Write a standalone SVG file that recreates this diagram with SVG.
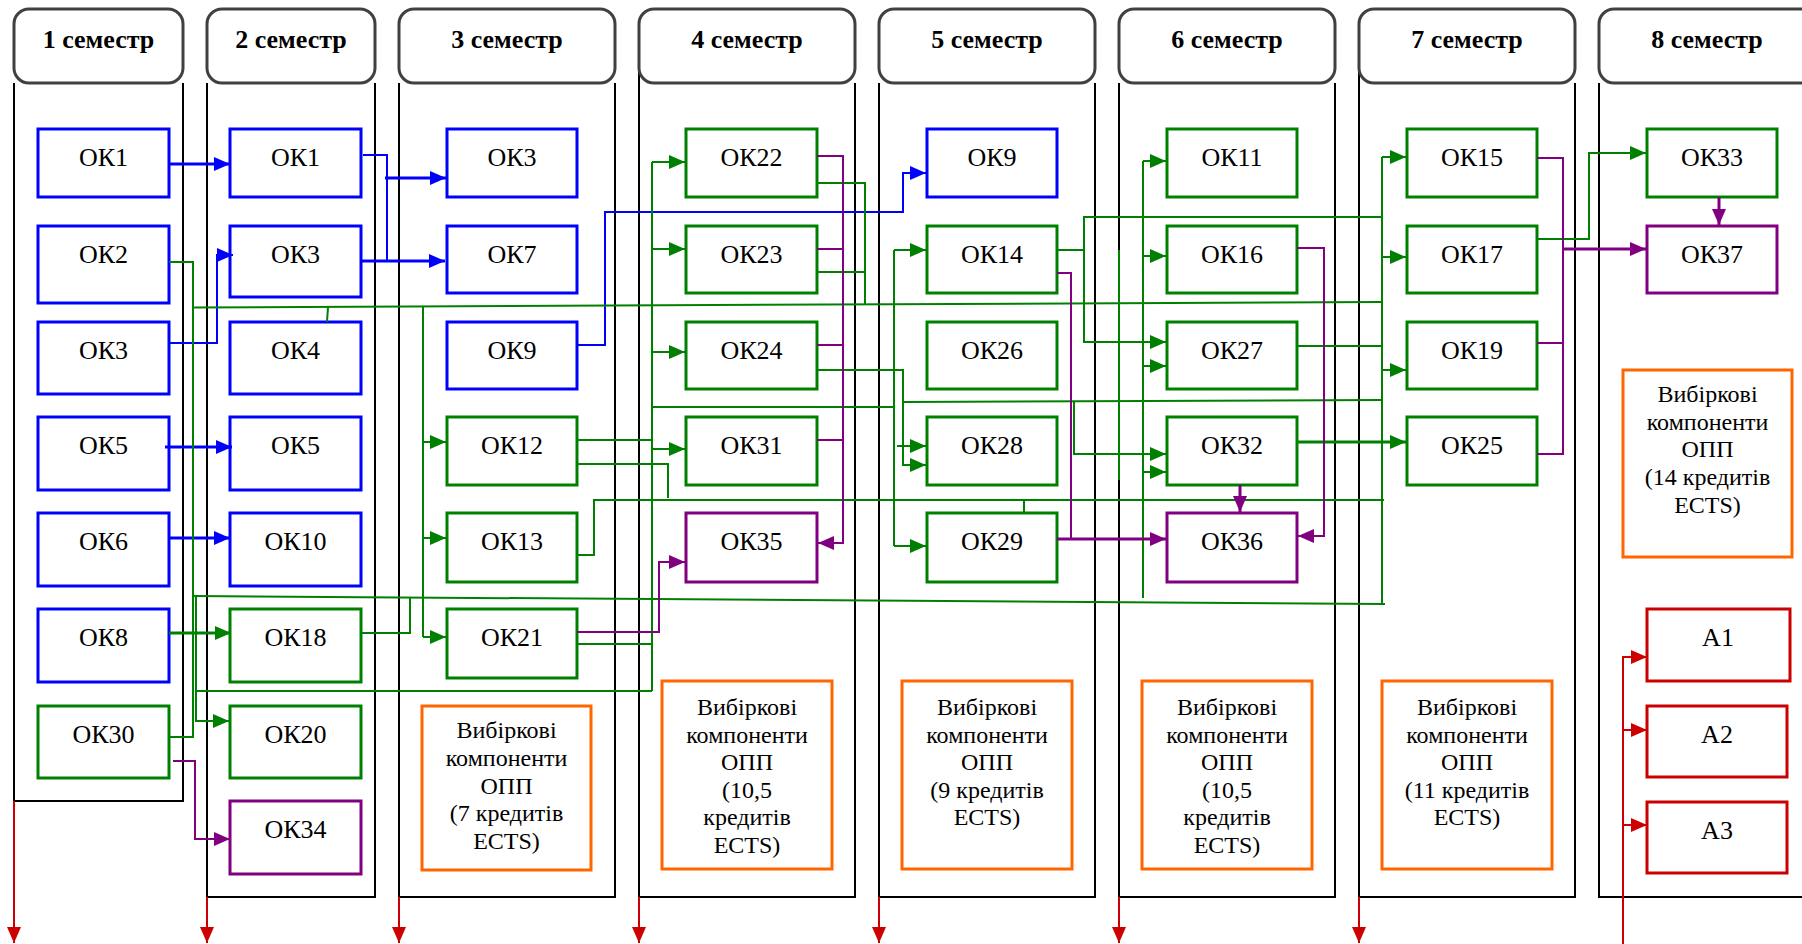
<svg xmlns="http://www.w3.org/2000/svg" width="1802" height="944" viewBox="0 0 1802 944">
<defs>
<style>
.col{fill:none;stroke:#000;stroke-width:2}
.hdr{fill:#fff;stroke:#404040;stroke-width:3}
.ht{font-family:"Liberation Serif","Times New Roman",serif;font-size:26px;font-weight:bold;text-anchor:middle;fill:#000}
.t{font-family:"Liberation Serif","Times New Roman",serif;font-size:26px;text-anchor:middle;fill:#000}
.v{font-family:"Liberation Serif","Times New Roman",serif;font-size:24px;text-anchor:middle;fill:#000}
.nb{fill:#fff;stroke:#0000ff;stroke-width:3}
.ng{fill:#fff;stroke:#008000;stroke-width:3}
.np{fill:#fff;stroke:#800080;stroke-width:3}
.nr{fill:#fff;stroke:#cc0000;stroke-width:3}
.no{fill:#fff;stroke:#ff6600;stroke-width:3}
.cb{fill:none;stroke:#0000ff;stroke-width:2}
.cg{fill:none;stroke:#008000;stroke-width:2}
.cp{fill:none;stroke:#800080;stroke-width:2}
.cr{fill:none;stroke:#cc0000;stroke-width:2}
.th{stroke-width:3}
</style>
<marker id="mb" viewBox="0 0 16 14" refX="16" refY="7" markerWidth="16" markerHeight="14" markerUnits="userSpaceOnUse" orient="auto"><path d="M0,0L16,7L0,14z" fill="#0000ff"/></marker>
<marker id="mg" viewBox="0 0 16 14" refX="16" refY="7" markerWidth="16" markerHeight="14" markerUnits="userSpaceOnUse" orient="auto"><path d="M0,0L16,7L0,14z" fill="#008000"/></marker>
<marker id="mp" viewBox="0 0 16 14" refX="16" refY="7" markerWidth="16" markerHeight="14" markerUnits="userSpaceOnUse" orient="auto"><path d="M0,0L16,7L0,14z" fill="#800080"/></marker>
<marker id="mr" viewBox="0 0 16 14" refX="16" refY="7" markerWidth="16" markerHeight="14" markerUnits="userSpaceOnUse" orient="auto"><path d="M0,0L16,7L0,14z" fill="#cc0000"/></marker>
</defs>
<rect width="1802" height="944" fill="#fff"/>

<g id="columns">
<path class="col" d="M14,83V801H183V83"/>
<path class="col" d="M207,83V897H375V83"/>
<path class="col" d="M399,83V897H615V83"/>
<path class="col" d="M639,58V897H855V83"/>
<path class="col" d="M879,83V897H1095V83"/>
<path class="col" d="M1119,83V897H1335V83"/>
<path class="col" d="M1359,58V897H1575V83"/>
<path class="col" d="M1599,83V897H1802"/>
</g>
<g id="headers">
<rect class="hdr" x="14" y="9" width="169" height="74" rx="15"/><text class="ht" x="98.5" y="48">1 семестр</text>
<rect class="hdr" x="207" y="9" width="168" height="74" rx="15"/><text class="ht" x="291" y="48">2 семестр</text>
<rect class="hdr" x="399" y="9" width="216" height="74" rx="15"/><text class="ht" x="507" y="48">3 семестр</text>
<rect class="hdr" x="639" y="9" width="216" height="74" rx="15"/><text class="ht" x="747" y="48">4 семестр</text>
<rect class="hdr" x="879" y="9" width="216" height="74" rx="15"/><text class="ht" x="987" y="48">5 семестр</text>
<rect class="hdr" x="1119" y="9" width="216" height="74" rx="15"/><text class="ht" x="1227" y="48">6 семестр</text>
<rect class="hdr" x="1359" y="9" width="216" height="74" rx="15"/><text class="ht" x="1467" y="48">7 семестр</text>
<rect class="hdr" x="1599" y="9" width="240" height="74" rx="15"/><text class="ht" x="1707" y="48">8 семестр</text>
</g>

<g id="s1-ok1"><rect class="nb" x="38" y="129" width="131" height="68"/><text class="t" x="103.5" y="166">ОК1</text></g>
<g id="s1-ok2"><rect class="nb" x="38" y="226" width="131" height="77"/><text class="t" x="103.5" y="263">ОК2</text></g>
<g id="s1-ok3"><rect class="nb" x="38" y="322" width="131" height="72"/><text class="t" x="103.5" y="359">ОК3</text></g>
<g id="s1-ok5"><rect class="nb" x="38" y="417" width="131" height="73"/><text class="t" x="103.5" y="454">ОК5</text></g>
<g id="s1-ok6"><rect class="nb" x="38" y="513" width="131" height="73"/><text class="t" x="103.5" y="550">ОК6</text></g>
<g id="s1-ok8"><rect class="nb" x="38" y="609" width="131" height="73"/><text class="t" x="103.5" y="646">ОК8</text></g>
<g id="s1-ok30"><rect class="ng" x="38" y="706" width="131" height="72"/><text class="t" x="103.5" y="743">ОК30</text></g>

<g id="s2-ok1"><rect class="nb" x="230" y="129" width="131" height="68"/><text class="t" x="295.5" y="166">ОК1</text></g>
<g id="s2-ok3"><rect class="nb" x="230" y="226" width="131" height="71"/><text class="t" x="295.5" y="263">ОК3</text></g>
<g id="s2-ok4"><rect class="nb" x="230" y="322" width="131" height="72"/><text class="t" x="295.5" y="359">ОК4</text></g>
<g id="s2-ok5"><rect class="nb" x="230" y="417" width="131" height="73"/><text class="t" x="295.5" y="454">ОК5</text></g>
<g id="s2-ok10"><rect class="nb" x="230" y="513" width="131" height="73"/><text class="t" x="295.5" y="550">ОК10</text></g>
<g id="s2-ok18"><rect class="ng" x="230" y="609" width="131" height="73"/><text class="t" x="295.5" y="646">ОК18</text></g>
<g id="s2-ok20"><rect class="ng" x="230" y="706" width="131" height="72"/><text class="t" x="295.5" y="743">ОК20</text></g>
<g id="s2-ok34"><rect class="np" x="230" y="801" width="131" height="73"/><text class="t" x="295.5" y="838">ОК34</text></g>

<g id="s3-ok3"><rect class="nb" x="447" y="129" width="130" height="68"/><text class="t" x="512" y="166">ОК3</text></g>
<g id="s3-ok7"><rect class="nb" x="447" y="226" width="130" height="67"/><text class="t" x="512" y="263">ОК7</text></g>
<g id="s3-ok9"><rect class="nb" x="447" y="322" width="130" height="67"/><text class="t" x="512" y="359">ОК9</text></g>
<g id="s3-ok12"><rect class="ng" x="447" y="417" width="130" height="68"/><text class="t" x="512" y="454">ОК12</text></g>
<g id="s3-ok13"><rect class="ng" x="447" y="513" width="130" height="69"/><text class="t" x="512" y="550">ОК13</text></g>
<g id="s3-ok21"><rect class="ng" x="447" y="609" width="130" height="69"/><text class="t" x="512" y="646">ОК21</text></g>
<g id="s3-vk"><rect class="no" x="422" y="706" width="169" height="164"/><text class="v" x="506.5" y="738">Вибіркові</text><text class="v" x="506.5" y="766">компоненти</text><text class="v" x="506.5" y="794">ОПП</text><text class="v" x="506.5" y="821">(7 кредитів</text><text class="v" x="506.5" y="849">ECTS)</text></g>

<g id="s4-ok22"><rect class="ng" x="686" y="129" width="131" height="68"/><text class="t" x="751.5" y="166">ОК22</text></g>
<g id="s4-ok23"><rect class="ng" x="686" y="226" width="131" height="67"/><text class="t" x="751.5" y="263">ОК23</text></g>
<g id="s4-ok24"><rect class="ng" x="686" y="322" width="131" height="67"/><text class="t" x="751.5" y="359">ОК24</text></g>
<g id="s4-ok31"><rect class="ng" x="686" y="417" width="131" height="68"/><text class="t" x="751.5" y="454">ОК31</text></g>
<g id="s4-ok35"><rect class="np" x="686" y="513" width="131" height="69"/><text class="t" x="751.5" y="550">ОК35</text></g>
<g id="s4-vk"><rect class="no" x="662" y="681" width="170" height="188"/><text class="v" x="747" y="715">Вибіркові</text><text class="v" x="747" y="743">компоненти</text><text class="v" x="747" y="770">ОПП</text><text class="v" x="747" y="798">(10,5</text><text class="v" x="747" y="825">кредитів</text><text class="v" x="747" y="853">ECTS)</text></g>

<g id="s5-ok9"><rect class="nb" x="927" y="129" width="130" height="68"/><text class="t" x="992" y="166">ОК9</text></g>
<g id="s5-ok14"><rect class="ng" x="927" y="226" width="130" height="67"/><text class="t" x="992" y="263">ОК14</text></g>
<g id="s5-ok26"><rect class="ng" x="927" y="322" width="130" height="67"/><text class="t" x="992" y="359">ОК26</text></g>
<g id="s5-ok28"><rect class="ng" x="927" y="417" width="130" height="68"/><text class="t" x="992" y="454">ОК28</text></g>
<g id="s5-ok29"><rect class="ng" x="927" y="513" width="130" height="69"/><text class="t" x="992" y="550">ОК29</text></g>
<g id="s5-vk"><rect class="no" x="902" y="681" width="170" height="188"/><text class="v" x="987" y="715">Вибіркові</text><text class="v" x="987" y="743">компоненти</text><text class="v" x="987" y="770">ОПП</text><text class="v" x="987" y="798">(9 кредитів</text><text class="v" x="987" y="825">ECTS)</text></g>

<g id="s6-ok11"><rect class="ng" x="1167" y="129" width="130" height="68"/><text class="t" x="1232" y="166">ОК11</text></g>
<g id="s6-ok16"><rect class="ng" x="1167" y="226" width="130" height="67"/><text class="t" x="1232" y="263">ОК16</text></g>
<g id="s6-ok27"><rect class="ng" x="1167" y="322" width="130" height="67"/><text class="t" x="1232" y="359">ОК27</text></g>
<g id="s6-ok32"><rect class="ng" x="1167" y="417" width="130" height="68"/><text class="t" x="1232" y="454">ОК32</text></g>
<g id="s6-ok36"><rect class="np" x="1167" y="513" width="130" height="69"/><text class="t" x="1232" y="550">ОК36</text></g>
<g id="s6-vk"><rect class="no" x="1142" y="681" width="170" height="188"/><text class="v" x="1227" y="715">Вибіркові</text><text class="v" x="1227" y="743">компоненти</text><text class="v" x="1227" y="770">ОПП</text><text class="v" x="1227" y="798">(10,5</text><text class="v" x="1227" y="825">кредитів</text><text class="v" x="1227" y="853">ECTS)</text></g>

<g id="s7-ok15"><rect class="ng" x="1407" y="129" width="130" height="68"/><text class="t" x="1472" y="166">ОК15</text></g>
<g id="s7-ok17"><rect class="ng" x="1407" y="226" width="130" height="67"/><text class="t" x="1472" y="263">ОК17</text></g>
<g id="s7-ok19"><rect class="ng" x="1407" y="322" width="130" height="67"/><text class="t" x="1472" y="359">ОК19</text></g>
<g id="s7-ok25"><rect class="ng" x="1407" y="417" width="130" height="68"/><text class="t" x="1472" y="454">ОК25</text></g>
<g id="s7-vk"><rect class="no" x="1382" y="681" width="170" height="188"/><text class="v" x="1467" y="715">Вибіркові</text><text class="v" x="1467" y="743">компоненти</text><text class="v" x="1467" y="770">ОПП</text><text class="v" x="1467" y="798">(11 кредитів</text><text class="v" x="1467" y="825">ECTS)</text></g>

<g id="s8-ok33"><rect class="ng" x="1647" y="129" width="130" height="68"/><text class="t" x="1712" y="166">ОК33</text></g>
<g id="s8-ok37"><rect class="np" x="1647" y="226" width="130" height="67"/><text class="t" x="1712" y="263">ОК37</text></g>
<g id="s8-vk"><rect class="no" x="1623" y="370" width="169" height="187"/><text class="v" x="1707.5" y="402">Вибіркові</text><text class="v" x="1707.5" y="430">компоненти</text><text class="v" x="1707.5" y="457">ОПП</text><text class="v" x="1707.5" y="485">(14 кредитів</text><text class="v" x="1707.5" y="513">ECTS)</text></g>
<g id="s8-a1"><rect class="nr" x="1647" y="609" width="143" height="72"/><text class="t" x="1718" y="646">А1</text></g>
<g id="s8-a2"><rect class="nr" x="1647" y="706" width="140" height="71"/><text class="t" x="1717" y="743">А2</text></g>
<g id="s8-a3"><rect class="nr" x="1647" y="802" width="140" height="71"/><text class="t" x="1717" y="839">А3</text></g>

<g id="connectors">
<!-- blue -->
<path class="cb th" d="M169,164H230" marker-end="url(#mb)"/>
<path class="cb" d="M363,155H387V261"/>
<path class="cb th" d="M385,178H446" marker-end="url(#mb)"/>
<path class="cb th" d="M361,261H445" marker-end="url(#mb)"/>
<path class="cb" d="M169,343H217V255H233" marker-end="url(#mb)"/>
<path class="cb th" d="M165,447H232" marker-end="url(#mb)"/>
<path class="cb th" d="M169,538H230" marker-end="url(#mb)"/>
<path class="cb" d="M577,345H605V212H903V173H926" marker-end="url(#mb)"/>
<!-- green -->
<path class="cg" d="M169,262H193V737H169"/>
<path class="cg" d="M193,307.5L1382,302"/>
<path class="cg" d="M327,322L328,307"/>
<path class="cg" d="M423,307V637"/>
<path class="cg" d="M423,442H446" marker-end="url(#mg)"/>
<path class="cg" d="M423,538H446" marker-end="url(#mg)"/>
<path class="cg" d="M423,637H446" marker-end="url(#mg)"/>
<path class="cg" d="M193,596L1385,604"/>
<path class="cg" d="M361,633H410V597"/>
<path class="cg th" d="M169,633H231" marker-end="url(#mg)"/>
<path class="cg" d="M196,691H652"/>
<path class="cg" d="M196,597V721H229" marker-end="url(#mg)"/>
<path class="cg" d="M652,162V691"/>
<path class="cg" d="M652,162H685" marker-end="url(#mg)"/>
<path class="cg" d="M652,249H685" marker-end="url(#mg)"/>
<path class="cg" d="M652,352H685" marker-end="url(#mg)"/>
<path class="cg" d="M652,449H685" marker-end="url(#mg)"/>
<path class="cg" d="M577,644H652"/>
<path class="cg" d="M577,440H652"/>
<path class="cg" d="M577,464H668V498"/>
<path class="cg" d="M577,555H594V500H1384"/>
<path class="cg" d="M1024,513V500"/>
<path class="cg" d="M652,407H894"/>
<path class="cg" d="M894,250V546"/>
<path class="cg" d="M894,250H926" marker-end="url(#mg)"/>
<path class="cg" d="M897,446H926" marker-end="url(#mg)"/>
<path class="cg" d="M894,546H926" marker-end="url(#mg)"/>
<path class="cg" d="M817,370H903V465H926" marker-end="url(#mg)"/>
<path class="cg" d="M903,402L1382,400"/>
<path class="cg" d="M1074,402V454H1166" marker-end="url(#mg)"/>
<path class="cg" d="M817,183H865V305"/>
<path class="cg" d="M817,272H865"/>
<path class="cg" d="M1057,250H1084"/>
<path class="cg" d="M1382,217H1084V342H1166" marker-end="url(#mg)"/>
<path class="cg" d="M1143,161V598"/>
<path class="cg" d="M1143,161H1166" marker-end="url(#mg)"/>
<path class="cg" d="M1143,256H1166" marker-end="url(#mg)"/>
<path class="cg" d="M1143,366H1166" marker-end="url(#mg)"/>
<path class="cg" d="M1143,472H1166" marker-end="url(#mg)"/>
<path class="cg" d="M1119,250V480"/>
<path class="cg" d="M1297,346H1382"/>
<path class="cg th" d="M1297,442H1406" marker-end="url(#mg)"/>
<path class="cg" d="M1382,157V604"/>
<path class="cg" d="M1382,157H1406" marker-end="url(#mg)"/>
<path class="cg" d="M1382,257H1406" marker-end="url(#mg)"/>
<path class="cg" d="M1382,370H1406" marker-end="url(#mg)"/>
<path class="cg" d="M1537,239H1589V153H1646" marker-end="url(#mg)"/>
<!-- purple -->
<path class="cp" d="M817,156H843V543H818" marker-end="url(#mp)"/>
<path class="cp" d="M817,249H843M817,345H843M817,440H843"/>
<path class="cp" d="M577,632H659V562H685" marker-end="url(#mp)"/>
<path class="cp" d="M1057,273H1071V539"/>
<path class="cp th" d="M1057,539H1166" marker-end="url(#mp)"/>
<path class="cp" d="M1297,248H1324V536H1298" marker-end="url(#mp)"/>
<path class="cp th" d="M1240,485V512" marker-end="url(#mp)"/>
<path class="cp" d="M1537,158H1563V454H1537M1537,343H1563"/>
<path class="cp th" d="M1563,249H1646" marker-end="url(#mp)"/>
<path class="cp th" d="M1719,197V225" marker-end="url(#mp)"/>
<path class="cp" d="M173,761H195V839H230" marker-end="url(#mp)"/>
<!-- red -->
<path class="cr" d="M14,801V943" marker-end="url(#mr)"/>
<path class="cr" d="M207,897V943" marker-end="url(#mr)"/>
<path class="cr" d="M399,897V943" marker-end="url(#mr)"/>
<path class="cr" d="M639,897V943" marker-end="url(#mr)"/>
<path class="cr" d="M879,897V943" marker-end="url(#mr)"/>
<path class="cr" d="M1119,897V943" marker-end="url(#mr)"/>
<path class="cr" d="M1359,897V943" marker-end="url(#mr)"/>
<path class="cr" d="M1623,944V657H1647" marker-end="url(#mr)"/>
<path class="cr" d="M1623,730H1647" marker-end="url(#mr)"/>
<path class="cr" d="M1623,825H1647" marker-end="url(#mr)"/>
</g>
</svg>
